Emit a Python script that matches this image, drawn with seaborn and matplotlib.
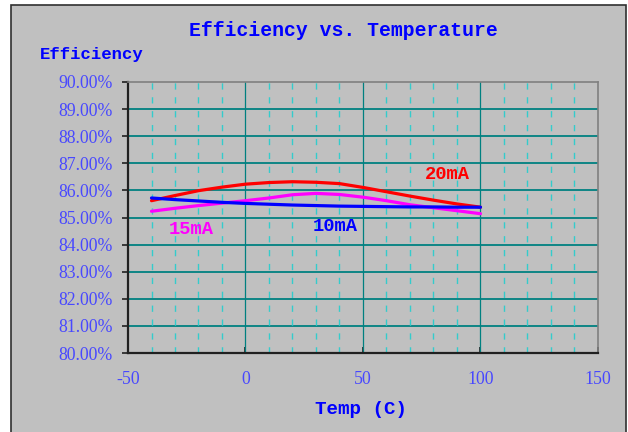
import numpy as np
import pandas as pd
import seaborn as sns
from matplotlib import pyplot as plt
from matplotlib.patches import Rectangle
from matplotlib.ticker import MultipleLocator, FuncFormatter

# data (efficiency in %)
temps = [-40, -30, -20, -10, 0, 10, 20, 30, 40, 50, 60, 70, 80, 90, 100]
eff_20mA = [85.62, 85.81, 85.99, 86.12, 86.23, 86.29, 86.32, 86.30, 86.25,
            86.11, 85.95, 85.79, 85.64, 85.50, 85.38]
eff_15mA = [85.23, 85.34, 85.44, 85.53, 85.62, 85.72, 85.84, 85.89, 85.85,
            85.75, 85.62, 85.47, 85.36, 85.25, 85.14]
eff_10mA = [85.72, 85.66, 85.61, 85.56, 85.52, 85.49, 85.46, 85.44, 85.42,
            85.41, 85.40, 85.39, 85.39, 85.38, 85.38]
series_names = ["20mA", "15mA", "10mA"]
series_colors = ["#ff0000", "#ff00ff", "#0000ff"]

x_ticks = [-50, 0, 50, 100, 150]
y_min, y_max = 80, 90

df = pd.DataFrame({
    "Temp": temps * 3,
    "Eff": eff_20mA + eff_15mA + eff_10mA,
    "Current": [n for n in series_names for _ in temps],
})

sns.set_style("white")
plt.rcParams["axes.unicode_minus"] = False
mono = ["Liberation Mono", "DejaVu Sans Mono"]
serif = ["Liberation Serif", "DejaVu Serif"]
blue = "#0000ff"
tick_blue = "#4848ff"
gray = "#c0c0c0"

W, H = 628, 432
fig = plt.figure(figsize=(W / 100, H / 100), dpi=100)
fig.patch.set_facecolor("white")
fig.patches.append(Rectangle((11 / W, -0.01), 615 / W, 1 - 5 / H + 0.01,
                             transform=fig.transFigure, facecolor=gray,
                             edgecolor="#303030", linewidth=1.2, zorder=-5))

ax = fig.add_axes([128 / W, (H - 353) / H, (598 - 128) / W, (353 - 82) / H])
ax.set_facecolor(gray)

# grid
for yv in range(y_min + 1, y_max):
    ax.axhline(yv, color="#008080", lw=1.3, zorder=1)
for xv in range(-40, 150, 10):
    if xv % 50 == 0:
        ax.axvline(xv, color="#008080", lw=0.9, zorder=1)
    else:
        ax.axvline(xv, color="#33cccc", lw=1.0, dashes=(4.5, 5.5), zorder=1)

sns.lineplot(data=df, x="Temp", y="Eff", hue="Current", hue_order=series_names,
             palette=series_colors, linewidth=2.3, legend=False, ax=ax, zorder=3)

ax.set_xlim(-50, 150)
ax.set_ylim(y_min, y_max)
ax.set_xticks(x_ticks)
ax.yaxis.set_major_locator(MultipleLocator(1))
ax.yaxis.set_major_formatter(FuncFormatter(lambda v, p: "%.2f%%" % v))
ax.set_xlabel("")
ax.set_ylabel("")
ax.tick_params(axis="y", direction="out", length=4, width=1.2, color="#202020",
               pad=7, labelsize=12.8, labelcolor=tick_blue, left=True)
ax.tick_params(axis="x", direction="in", length=4, width=1.2, color="#202020",
               pad=13, labelsize=12.8, labelcolor=tick_blue, bottom=True)
for lab in ax.get_xticklabels() + ax.get_yticklabels():
    lab.set_family(serif)

for side in ["left", "bottom"]:
    ax.spines[side].set_color("#202020")
    ax.spines[side].set_linewidth(1.6)
for side in ["top", "right"]:
    ax.spines[side].set_color("#808080")
    ax.spines[side].set_linewidth(1.2)

# series labels
ax.text(86, 86.6, "20mA", color="#ff0000", family=mono, weight="bold",
        fontsize=13.5, ha="center", va="center")
ax.text(38, 84.65, "10mA", color="#0000ff", family=mono, weight="bold",
        fontsize=13.5, ha="center", va="center")
ax.text(-23, 84.54, "15mA", color="#ff00ff", family=mono, weight="bold",
        fontsize=13.5, ha="center", va="center")

fig.text(343 / W, 1 - 31 / H, "Efficiency vs. Temperature", color=blue,
         family=mono, weight="bold", fontsize=14.2, ha="center", va="center")
fig.text(40 / W, 1 - 55 / H, "Efficiency", color=blue, family=mono,
         weight="bold", fontsize=12.4, ha="left", va="center")
fig.text(361 / W, 1 - 409 / H, "Temp (C)", color=blue, family=mono,
         weight="bold", fontsize=13.8, ha="center", va="center")

fig.savefig("out.png", dpi=100)
